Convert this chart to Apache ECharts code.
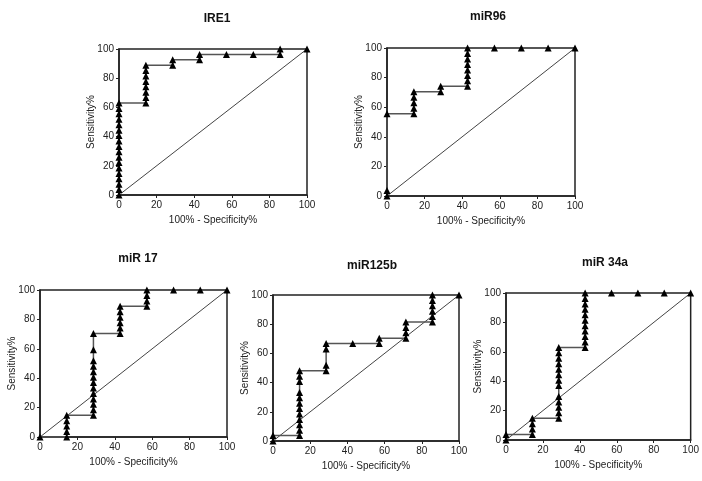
<!DOCTYPE html>
<html>
<head>
<meta charset="utf-8">
<script src="https://cdn.jsdelivr.net/npm/echarts@6/dist/echarts.min.js"></script>
<style>html,body{margin:0;padding:0;background:#fff}#c{width:702px;height:481px}</style>
</head>
<body>
<div id="c"></div>
<script>
// Panel titles
var titles = ["IRE1", "miR96", "miR 17", "miR125b", "miR 34a"];
var xTitle = "100% - Specificity%";
var yTitle = "Sensitivity%";
var tickValues = [0, 20, 40, 60, 80, 100];
var diagonal = [0, 100];

// IRE1
var ire1X = [0,0,0,0,0,0,0,0,0,0,0,0,0,0,0,0,0,0, 14.29,14.29,14.29,14.29,14.29,14.29,14.29,14.29, 28.57,28.57, 42.86,42.86, 57.14, 71.43, 85.71,85.71, 100];
var ire1Y = [0,3.7,7.4,11.1,14.8,18.5,22.2,25.9,29.6,33.3,37.0,40.7,44.4,48.1,51.9,55.6,59.3,63.0, 63.0,66.7,70.4,74.1,77.8,81.5,85.2,88.9, 88.9,92.6, 92.6,96.3, 96.3, 96.3, 96.3,100, 100];
// miR96
var mir96X = [0,0,0, 14.29,14.29,14.29,14.29,14.29, 28.57,28.57, 42.86,42.86,42.86,42.86,42.86,42.86,42.86,42.86, 57.14, 71.43, 85.71, 100];
var mir96Y = [0,3.7,55.6, 55.6,59.3,63.0,66.7,70.4, 70.4,74.1, 74.1,77.8,81.5,85.2,88.9,92.6,96.3,100, 100, 100, 100, 100];
// miR 17
var mir17X = [0, 14.29,14.29,14.29,14.29,14.29, 28.57,28.57,28.57,28.57,28.57,28.57,28.57,28.57,28.57,28.57,28.57,28.57,28.57, 42.86,42.86,42.86,42.86,42.86,42.86, 57.14,57.14,57.14,57.14, 71.43, 85.71, 100];
var mir17Y = [0, 0,3.7,7.4,11.1,14.8, 14.8,18.5,22.2,25.9,29.6,33.3,37.0,40.7,44.4,48.1,51.9,59.3,70.4, 70.4,74.1,77.8,81.5,85.2,88.9, 88.9,92.6,96.3,100, 100, 100, 100];
// miR125b
var mir125bX = [0,0, 14.29,14.29,14.29,14.29,14.29,14.29,14.29,14.29,14.29,14.29,14.29,14.29, 28.57,28.57,28.57,28.57, 42.86, 57.14,57.14, 71.43,71.43,71.43,71.43, 85.71,85.71,85.71,85.71,85.71,85.71, 100];
var mir125bY = [0,3.7, 3.7,7.4,11.1,14.8,18.5,22.2,25.9,29.6,33.3,40.7,44.4,48.1, 48.1,51.9,63.0,66.7, 66.7, 66.7,70.4, 70.4,74.1,77.8,81.5, 81.5,85.2,88.9,92.6,96.3,100, 100];
// miR 34a
var mir34aX = [0,0, 14.29,14.29,14.29,14.29, 28.57,28.57,28.57,28.57,28.57,28.57,28.57,28.57,28.57,28.57,28.57,28.57,28.57, 42.86,42.86,42.86,42.86,42.86,42.86,42.86,42.86,42.86,42.86,42.86, 57.14, 71.43, 85.71, 100];
var mir34aY = [0,3.7, 3.7,7.4,11.1,14.8, 14.8,18.5,22.2,25.9,29.6,37.0,40.7,44.4,48.1,51.9,55.6,59.3,63.0, 63.0,66.7,70.4,74.1,77.8,81.5,85.2,88.9,92.6,96.3,100, 100, 100, 100, 100];

var panelsX = [ire1X, mir96X, mir17X, mir125bX, mir34aX];
var panelsY = [ire1Y, mir96Y, mir17Y, mir125bY, mir34aY];

var layout = [
  {left:119, top:49, width:188, height:146, tx:212, ty:8},
  {left:387, top:48, width:188, height:148, tx:483, ty:6},
  {left:40,  top:290, width:187, height:147, tx:133, ty:248},
  {left:273, top:295, width:186, height:146, tx:367, ty:255},
  {left:506, top:293, width:187, height:147, tx:600, ty:252}
];

var font = "Liberation Sans, Arial, sans-serif";
var grids = [], xAxes = [], yAxes = [], series = [], titleOpts = [];
layout.forEach(function(L, i){
  grids.push({left:L.left, top:L.top, width:L.width, height:L.height, show:true, borderColor:'#222', borderWidth:1.5, containLabel:false});
  titleOpts.push({text:titles[i], left:L.tx, top:L.ty, textAlign:'center',
    textStyle:{fontFamily:font, fontSize:12, fontWeight:'bold', color:'#111'}});
  xAxes.push({type:'value', gridIndex:i, min:0, max:100, interval:20,
    name:xTitle, nameLocation:'middle', nameGap:20,
    nameTextStyle:{fontFamily:font, fontSize:10, color:'#222'},
    axisLine:{show:true, lineStyle:{color:'#222', width:1.5}},
    axisTick:{show:true, length:3, lineStyle:{color:'#222'}},
    axisLabel:{fontFamily:font, fontSize:10, color:'#222', margin:5},
    splitLine:{show:false}});
  yAxes.push({type:'value', gridIndex:i, min:0, max:100, interval:20,
    name:yTitle, nameLocation:'middle', nameGap:23, nameMoveOverlap:false,
    nameTextStyle:{fontFamily:font, fontSize:10, color:'#222'},
    axisLine:{show:true, lineStyle:{color:'#222', width:1.5}},
    axisTick:{show:true, length:3, lineStyle:{color:'#222'}},
    axisLabel:{fontFamily:font, fontSize:10, color:'#222', margin:5},
    splitLine:{show:false}});
  series.push({type:'line', xAxisIndex:i, yAxisIndex:i, data:[[diagonal[0],diagonal[0]],[diagonal[1],diagonal[1]]],
    showSymbol:false, symbol:'none', lineStyle:{color:'#444', width:1}, silent:true, z:1});
  var d = panelsX[i].map(function(x, k){ return [x, panelsY[i][k]]; });
  series.push({type:'line', xAxisIndex:i, yAxisIndex:i, data:d, clip:false,
    symbol:'triangle', symbolSize:7, showAllSymbol:true,
    itemStyle:{color:'#000'}, lineStyle:{color:'#555', width:1.5}, z:3});
});

var chart = echarts.init(document.getElementById('c'), null, {renderer:'canvas'});
chart.setOption({animation:false, backgroundColor:'#fff', title:titleOpts, grid:grids, xAxis:xAxes, yAxis:yAxes, series:series});
</script>
</body>
</html>
